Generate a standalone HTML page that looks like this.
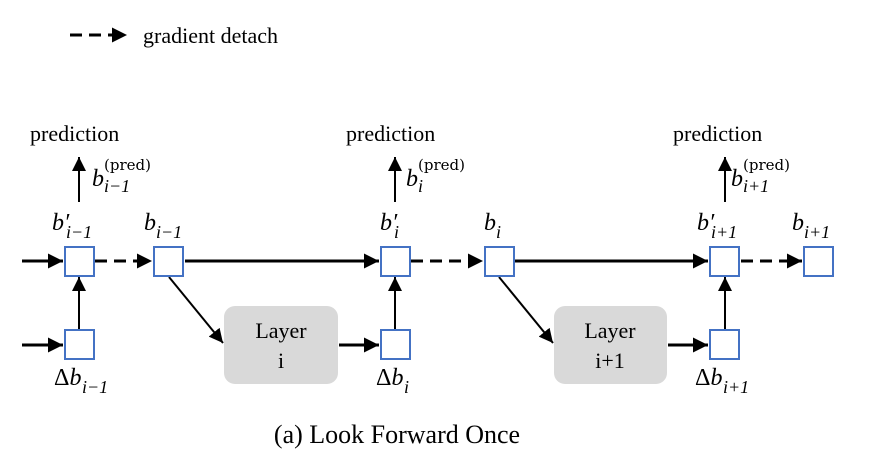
<!DOCTYPE html>
<html><head><meta charset="utf-8"><style>
body{margin:0;background:#fff;width:873px;height:465px;overflow:hidden}
svg{display:block}
text{font-family:"Liberation Serif",serif;fill:#000}
.m{font-style:italic;font-size:24px}
.s{font-style:italic;font-size:18px}
.p{font-family:"DejaVu Serif","Liberation Serif",serif;font-size:15px}
</style></head><body>
<svg width="873" height="465" viewBox="0 0 873 465">
<defs><marker id="a" viewBox="0 0 10 10" refX="10" refY="5" markerWidth="5.5" markerHeight="5" markerUnits="strokeWidth" orient="auto"><path d="M0,0L10,5L0,10z" fill="#000"/></marker>
<marker id="b" viewBox="0 0 10 10" refX="10" refY="5" markerWidth="7" markerHeight="7" markerUnits="strokeWidth" orient="auto"><path d="M0,0L10,5L0,10z" fill="#000"/></marker></defs>
<line x1="70" y1="35" x2="127" y2="35" stroke="#000" stroke-width="3" stroke-dasharray="12,7" marker-end="url(#a)"/>
<text x="143" y="43" font-size="22">gradient detach</text>
<g stroke="#000" fill="none">
<line x1="22" y1="261" x2="63" y2="261" stroke-width="3" marker-end="url(#a)"/>
<line x1="95" y1="261" x2="152" y2="261" stroke-width="3" stroke-dasharray="12,7" marker-end="url(#a)"/>
<line x1="185" y1="261" x2="379" y2="261" stroke-width="3" marker-end="url(#a)"/>
<line x1="411" y1="261" x2="483" y2="261" stroke-width="3" stroke-dasharray="12,7" marker-end="url(#a)"/>
<line x1="515" y1="261" x2="708" y2="261" stroke-width="3" marker-end="url(#a)"/>
<line x1="741" y1="261" x2="802" y2="261" stroke-width="3" stroke-dasharray="12,7" marker-end="url(#a)"/>
<line x1="22" y1="345" x2="63" y2="345" stroke-width="3" marker-end="url(#a)"/>
<line x1="339" y1="345" x2="379" y2="345" stroke-width="3" marker-end="url(#a)"/>
<line x1="668" y1="345" x2="708" y2="345" stroke-width="3" marker-end="url(#a)"/>
<line x1="79" y1="329" x2="79" y2="277" stroke-width="2" marker-end="url(#b)"/>
<line x1="395" y1="329" x2="395" y2="277" stroke-width="2" marker-end="url(#b)"/>
<line x1="725" y1="329" x2="725" y2="277" stroke-width="2" marker-end="url(#b)"/>
<line x1="79" y1="202" x2="79" y2="157" stroke-width="2" marker-end="url(#b)"/>
<line x1="395" y1="202" x2="395" y2="157" stroke-width="2" marker-end="url(#b)"/>
<line x1="725" y1="202" x2="725" y2="157" stroke-width="2" marker-end="url(#b)"/>
<line x1="169" y1="277" x2="223" y2="343" stroke-width="2" marker-end="url(#b)"/>
<line x1="499" y1="277" x2="553" y2="343" stroke-width="2" marker-end="url(#b)"/>
</g>
<g fill="#fff" stroke="#4472c4" stroke-width="2">
<rect x="65" y="247" width="29" height="29"/><rect x="154" y="247" width="29" height="29"/>
<rect x="381" y="247" width="29" height="29"/><rect x="485" y="247" width="29" height="29"/>
<rect x="710" y="247" width="29" height="29"/><rect x="804" y="247" width="29" height="29"/>
<rect x="65" y="330" width="29" height="29"/><rect x="381" y="330" width="29" height="29"/><rect x="710" y="330" width="29" height="29"/>
</g>
<rect x="224" y="306" width="114" height="78" rx="11" fill="#d9d9d9"/>
<rect x="554" y="306" width="113" height="78" rx="11" fill="#d9d9d9"/>
<text x="281" y="338" font-size="22" text-anchor="middle">Layer</text>
<text x="281" y="368" font-size="22" text-anchor="middle">i</text>
<text x="610" y="338" font-size="22" text-anchor="middle">Layer</text>
<text x="610" y="368" font-size="22" text-anchor="middle">i+1</text>
<text x="30" y="141" font-size="22">prediction</text>
<text x="346" y="141" font-size="22">prediction</text>
<text x="673" y="141" font-size="22">prediction</text>
<text x="92" y="186" class="m">b</text><text x="104" y="170" class="p">(pred)</text><text x="104" y="192" class="s">i−1</text>
<text x="406" y="186" class="m">b</text><text x="418" y="170" class="p">(pred)</text><text x="418" y="192" class="s">i</text>
<text x="731" y="186" class="m">b</text><text x="743" y="170" class="p">(pred)</text><text x="743" y="192" class="s">i+1</text>
<text x="52" y="230" class="m">b′</text><text x="66" y="238" class="s">i−1</text>
<text x="144" y="230" class="m">b</text><text x="156" y="238" class="s">i−1</text>
<text x="380" y="230" class="m">b′</text><text x="394" y="238" class="s">i</text>
<text x="484" y="230" class="m">b</text><text x="496" y="238" class="s">i</text>
<text x="697" y="230" class="m">b′</text><text x="711" y="238" class="s">i+1</text>
<text x="792" y="230" class="m">b</text><text x="804" y="238" class="s">i+1</text>
<text x="54" y="385" font-size="24">Δ<tspan font-style="italic">b</tspan></text><text x="82" y="393" class="s">i−1</text>
<text x="376" y="385" font-size="24">Δ<tspan font-style="italic">b</tspan></text><text x="404" y="393" class="s">i</text>
<text x="695" y="385" font-size="24">Δ<tspan font-style="italic">b</tspan></text><text x="723" y="393" class="s">i+1</text>
<text x="397" y="443" font-size="26" text-anchor="middle">(a) Look Forward Once</text>
</svg>
</body></html>
